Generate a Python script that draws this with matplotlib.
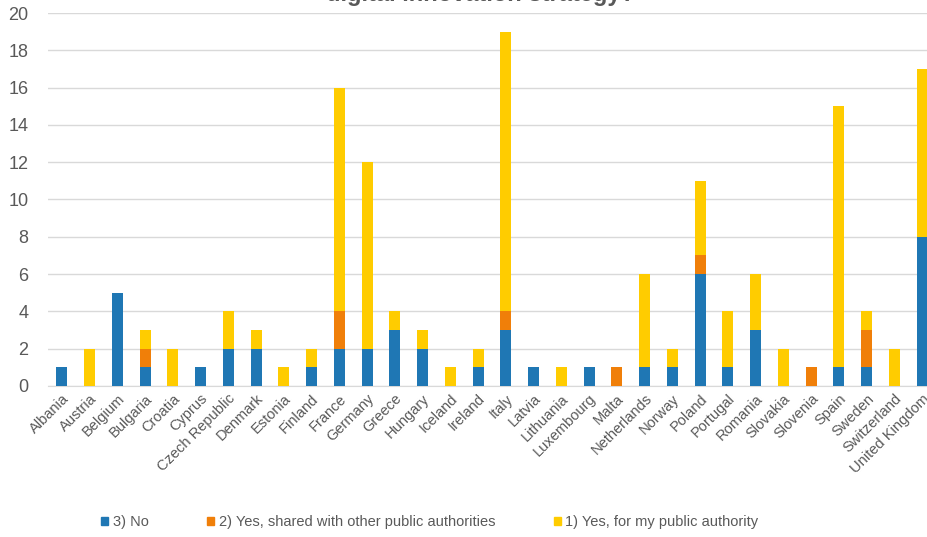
import numpy as np
import matplotlib.pyplot as plt
from matplotlib.patches import Patch

countries = ['Albania', 'Austria', 'Belgium', 'Bulgaria', 'Croatia', 'Cyprus',
             'Czech Republic', 'Denmark', 'Estonia', 'Finland', 'France', 'Germany',
             'Greece', 'Hungary', 'Iceland', 'Ireland', 'Italy', 'Latvia',
             'Lithuania', 'Luxembourg', 'Malta', 'Netherlands', 'Norway', 'Poland',
             'Portugal', 'Romania', 'Slovakia', 'Slovenia', 'Spain', 'Sweden',
             'Switzerland', 'United Kingdom']
no_vals     = [1, 0, 5, 1, 0, 1, 2, 2, 0, 1, 2, 2, 3, 2, 0, 1, 3, 1, 0, 1, 0, 1, 1, 6, 1, 3, 0, 0, 1, 1, 0, 8]
shared_vals = [0, 0, 0, 1, 0, 0, 0, 0, 0, 0, 2, 0, 0, 0, 0, 0, 1, 0, 0, 0, 1, 0, 0, 1, 0, 0, 0, 1, 0, 2, 0, 0]
own_vals    = [0, 2, 0, 1, 2, 0, 2, 1, 1, 1, 12, 10, 1, 1, 1, 1, 15, 0, 1, 0, 0, 5, 1, 4, 3, 3, 2, 0, 14, 1, 2, 9]
series_names = ['3) No', '2) Yes, shared with other public authorities', '1) Yes, for my public authority']
colors = ['#1F77B4', '#F07F09', '#FFCC00']

plt.rcParams['font.family'] = ['Liberation Sans', 'DejaVu Sans']
text_col = '#595959'

fig = plt.figure(figsize=(9.28, 5.37), dpi=100)
ax = fig.add_axes([48 / 928, 1 - 386 / 537, 888 / 928, 373 / 537])

x = np.arange(len(countries))
w = 0.4
bottom = np.zeros(len(countries))
for vals, c in zip([no_vals, shared_vals, own_vals], colors):
    ax.bar(x, vals, w, bottom=bottom, color=c, zorder=3)
    bottom += np.array(vals)

ax.set_xlim(-0.5, len(countries) - 0.5)
ax.set_ylim(0, 20)
ax.set_yticks(range(0, 21, 2))
ax.grid(axis='y', color='#D9D9D9', lw=1, zorder=0)
for s in ['top', 'right', 'left']:
    ax.spines[s].set_visible(False)
ax.spines['bottom'].set_color('#D9D9D9')
ax.tick_params(axis='both', length=0, colors=text_col)
ax.tick_params(axis='y', labelsize=13, pad=14)
ax.tick_params(axis='x', pad=4)
ax.set_xticks(x)
ax.set_xticklabels(countries, rotation=45, ha='right', rotation_mode='anchor', fontsize=10.5)

fig.text(480 / 928, 1 - 1 / 537, 'digital innovation strategy?', ha='center', va='baseline',
         fontsize=17, fontweight='bold', color=text_col)

handles = [Patch(color=c, label=n) for c, n in zip(colors, series_names)]
fig.legend(handles=handles, ncol=3, loc='center left', bbox_to_anchor=(88 / 928, 1 - 522 / 537),
           frameon=False, fontsize=10.5, handlelength=0.5, handleheight=0.5, handletextpad=0.3,
           columnspacing=4.0, labelcolor=text_col)

fig.savefig('out.png', dpi=100)
